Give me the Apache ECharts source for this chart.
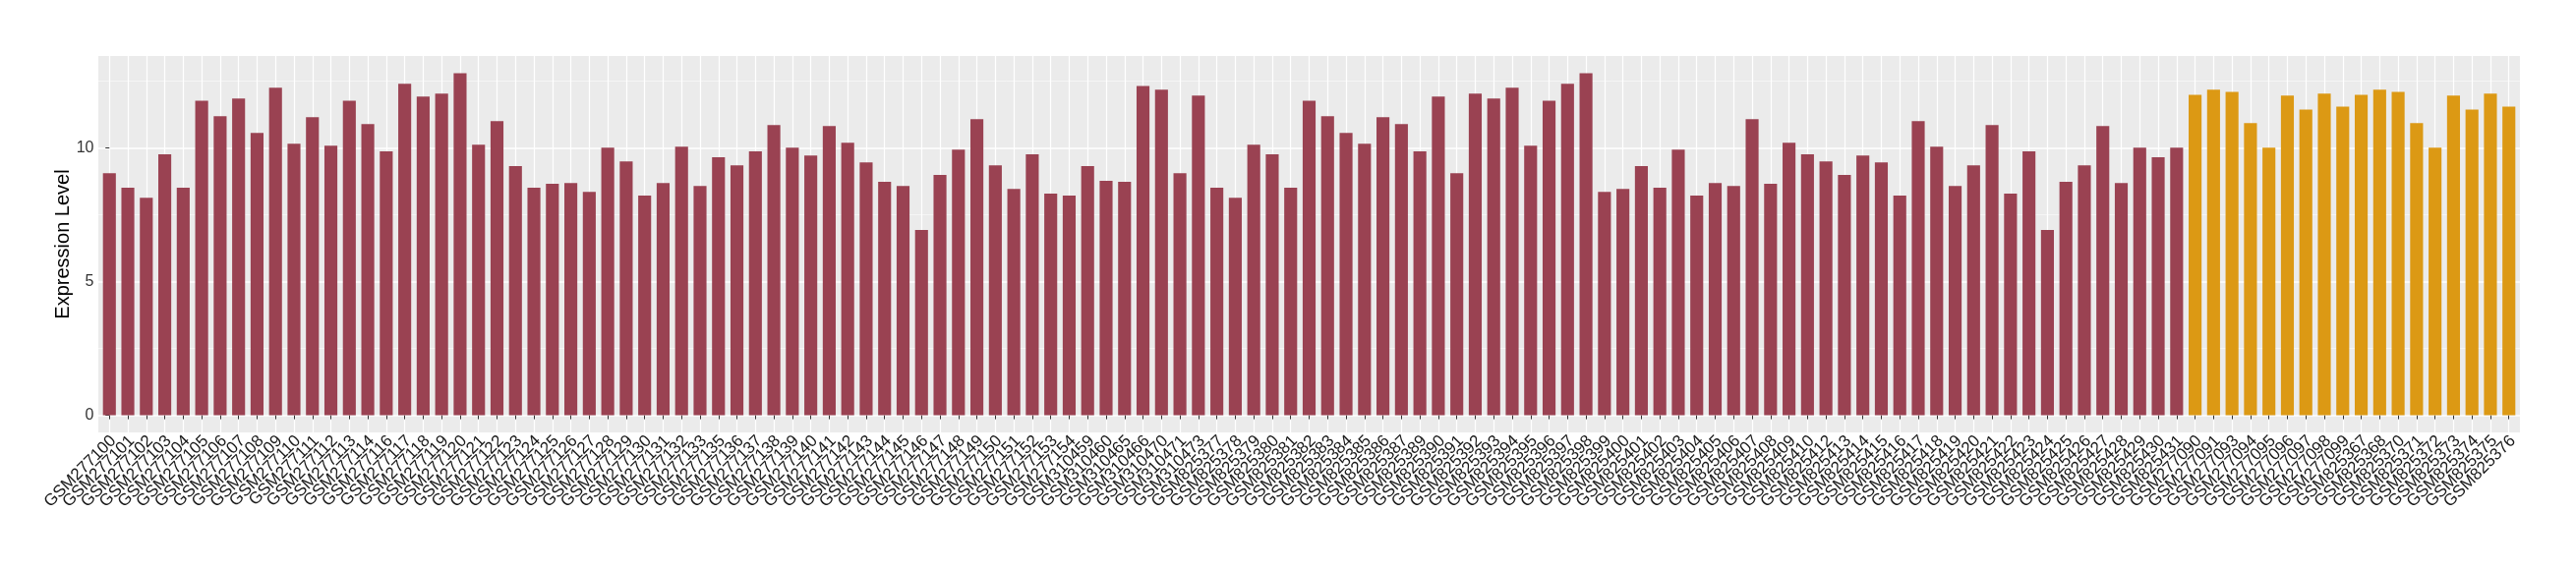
<!DOCTYPE html>
<html><head><meta charset="utf-8">
<script src="https://cdn.jsdelivr.net/npm/echarts@6/dist/echarts.min.js"></script>
<style>html,body{margin:0;padding:0;background:#fff;overflow:hidden}#c{width:2620px;height:580px}</style>
</head><body><div id="c"></div>
<script>
const samplesA = [
 'GSM277100','GSM277101','GSM277102','GSM277103','GSM277104','GSM277105','GSM277106','GSM277107','GSM277108','GSM277109',
 'GSM277110','GSM277111','GSM277112','GSM277113','GSM277114','GSM277116','GSM277117','GSM277118','GSM277119','GSM277120',
 'GSM277121','GSM277122','GSM277123','GSM277124','GSM277125','GSM277126','GSM277127','GSM277128','GSM277129','GSM277130',
 'GSM277131','GSM277132','GSM277133','GSM277135','GSM277136','GSM277137','GSM277138','GSM277139','GSM277140','GSM277141',
 'GSM277142','GSM277143','GSM277144','GSM277145','GSM277146','GSM277147','GSM277148','GSM277149','GSM277150','GSM277151',
 'GSM277152','GSM277153','GSM277154','GSM310459','GSM310460','GSM310465','GSM310466','GSM310470','GSM310471','GSM310473',
 'GSM825377','GSM825378','GSM825379','GSM825380','GSM825381','GSM825382','GSM825383','GSM825384','GSM825385','GSM825386',
 'GSM825387','GSM825389','GSM825390','GSM825391','GSM825392','GSM825393','GSM825394','GSM825395','GSM825396','GSM825397',
 'GSM825398','GSM825399','GSM825400','GSM825401','GSM825402','GSM825403','GSM825404','GSM825405','GSM825406','GSM825407',
 'GSM825408','GSM825409','GSM825410','GSM825412','GSM825413','GSM825414','GSM825415','GSM825416','GSM825417','GSM825418',
 'GSM825419','GSM825420','GSM825421','GSM825422','GSM825423','GSM825424','GSM825425','GSM825426','GSM825427','GSM825428',
 'GSM825429','GSM825430','GSM825431'
];
const valuesA = [
 9.06,8.51,8.14,9.76,8.51,11.77,11.19,11.85,10.56,12.25,
 10.16,11.15,10.09,11.77,10.89,9.87,12.40,11.92,12.03,12.80,
 10.12,11.00,9.32,8.51,8.66,8.69,8.36,10.01,9.50,8.22,
 8.69,10.05,8.58,9.65,9.35,9.87,10.86,10.01,9.72,10.82,
 10.20,9.46,8.73,8.58,6.93,8.99,9.94,11.08,9.35,8.47,
 9.76,8.29,8.22,9.32,8.77,8.73,12.32,12.18,9.06,11.96,
 8.51,8.14,10.12,9.76,8.51,11.77,11.19,10.56,10.16,11.15,
 10.89,9.87,11.92,9.06,12.03,11.85,12.25,10.09,11.77,12.40,
 12.80,8.36,8.47,9.32,8.51,9.94,8.22,8.69,8.58,11.08,
 8.66,10.20,9.76,9.50,8.99,9.72,9.46,8.22,11.00,10.05,
 8.58,9.35,10.86,8.29,9.87,6.93,8.73,9.35,10.82,8.69,
 10.01,9.65,10.01
];
const samplesB = [
 'GSM277090','GSM277091','GSM277093','GSM277094','GSM277095','GSM277096','GSM277097','GSM277098','GSM277099',
 'GSM825367','GSM825368','GSM825370','GSM825371','GSM825372','GSM825373','GSM825374','GSM825375','GSM825376'
];
const valuesB = [
 11.99,12.18,12.10,10.93,10.01,11.96,11.44,12.03,11.55,
 11.99,12.18,12.10,10.93,10.01,11.96,11.44,12.03,11.55
];
const yTicks = [0, 5, 10];
const yMinorTicks = [2.5, 7.5, 12.5];
const yTitle = 'Expression Level';

const categories = samplesA.concat(samplesB);
const nA = samplesA.length;
const idx = categories.map((_, i) => i);
const allVals = valuesA.concat(valuesB);
const vmax = Math.max.apply(null, allVals);
const pad = vmax * 0.05;
const xMin = -0.6, xMax = categories.length - 1 + 0.6;
const labelShift = 0.22; // label anchor nudge (category units) to mimic ggplot hjust/vjust
const labMin = xMin - labelShift, labMax = xMax - labelShift;
// empty sentinel labels at both ends absorb the min/max-label overlap handling
const labelValues = [labMin].concat(idx, [labMax]);

const chart = echarts.init(document.getElementById('c'), null, {renderer: 'canvas'});
const FONT = 'Liberation Sans';
chart.setOption({
  animation: false,
  backgroundColor: '#ffffff',
  grid: {left: 100, right: 57, top: 57, bottom: 140, show: true, backgroundColor: '#EBEBEB', borderWidth: 0, containLabel: false},
  xAxis: [{
    type: 'value', min: xMin, max: xMax, position: 'bottom',
    axisLine: {show: false},
    axisTick: {show: true, length: 4, lineStyle: {color: '#333333', width: 1}, customValues: idx},
    splitLine: {show: true, lineStyle: {color: '#ffffff', width: 1.2}},
    axisLabel: {show: false}
  }, {
    type: 'value', min: labMin, max: labMax, position: 'bottom', offset: 0,
    axisLine: {show: false},
    axisTick: {show: false},
    splitLine: {show: false},
    axisLabel: {customValues: labelValues, rotate: 45, margin: 6, fontFamily: FONT, fontSize: 17, lineHeight: 12, color: '#1a1a1a',
      hideOverlap: false,
      formatter: v => {
        const r = Math.round(v);
        return Math.abs(v - r) > 1e-6 ? '' : (categories[r] || '');
      }}
  }],
  yAxis: [{
    type: 'value', min: -pad, max: vmax + pad,
    name: yTitle, nameLocation: 'middle', nameRotate: 90, nameGap: 26, nameMoveOverlap: false,
    nameTextStyle: {fontFamily: FONT, fontSize: 20, color: '#000'},
    axisLine: {show: false},
    axisTick: {show: true, length: 4, lineStyle: {color: '#333333', width: 1}, customValues: yTicks},
    axisLabel: {customValues: yTicks, margin: 4.5, fontFamily: FONT, fontSize: 16, color: '#333333'},
    splitLine: {show: true, lineStyle: {color: '#ffffff', width: 1.5}}
  }, {
    type: 'value', min: -pad, max: vmax + pad, position: 'left',
    axisLine: {show: false},
    axisTick: {show: false, customValues: yMinorTicks},
    axisLabel: {show: false, customValues: yMinorTicks},
    splitLine: {show: true, lineStyle: {color: '#F7F7F7', width: 0.8}}
  }],
  series: [{
    type: 'bar', xAxisIndex: 0, yAxisIndex: 0, barWidth: '70%', barGap: '-100%',
    itemStyle: {color: '#9A4252'},
    data: valuesA.map((v, i) => [i, v])
  }, {
    type: 'bar', xAxisIndex: 0, yAxisIndex: 0, barWidth: '70%', barGap: '-100%',
    itemStyle: {color: '#DC9914'},
    data: valuesB.map((v, i) => [i + nA, v])
  }]
});
</script>
</body></html>
